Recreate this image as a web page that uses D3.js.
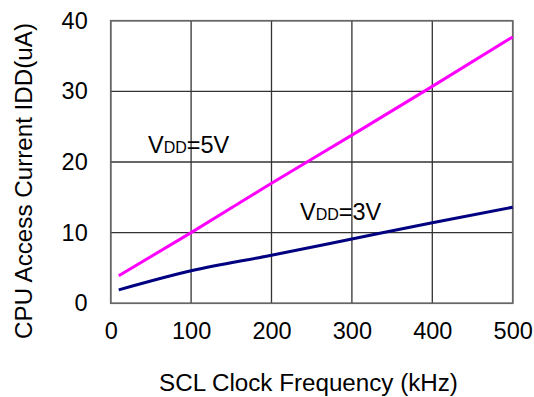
<!DOCTYPE html>
<html><head><meta charset="utf-8">
<script src="https://cdn.jsdelivr.net/npm/d3@7"></script>
<style>body{margin:0;background:#fff}svg{display:block}text{font-family:Arial,"Liberation Sans",sans-serif;fill:#000}</style>
</head><body><svg id="c" width="534" height="397"></svg>
<script>
const freq = [10, 100, 200, 300, 400, 500];
const vdd5 = [3.9, 10.0, 17.0, 23.8, 30.7, 37.7];
const vdd3 = [1.9, 4.6, 6.8, 9.1, 11.4, 13.6];
const xTicks = [0, 100, 200, 300, 400, 500];
const yTicks = [0, 10, 20, 30, 40];
const xTitle = "SCL Clock Frequency (kHz)";
const yTitle = "CPU Access Current IDD(uA)";

const svg = d3.select("#c");
const L = 110.7, R = 512.7, T = 20.7, B = 303.3;
const x = d3.scaleLinear().domain([0, 500]).range([L, R]);
const y = d3.scaleLinear().domain([0, 40]).range([B, T]);

// grid
const g = svg.append("g");
g.selectAll(".vx").data(xTicks).join("line")
  .attr("x1", d => x(d)).attr("x2", d => x(d)).attr("y1", T).attr("y2", B)
  .attr("stroke", "#333").attr("stroke-width", 1.3);
g.selectAll(".hy").data(yTicks).join("line")
  .attr("y1", d => y(d)).attr("y2", d => y(d)).attr("x1", L).attr("x2", R)
  .attr("stroke", "#333").attr("stroke-width", 1.3);
g.append("rect").attr("x", L).attr("y", T).attr("width", R - L).attr("height", B - T)
  .attr("fill", "none").attr("stroke", "#666").attr("stroke-width", 1.6);

// axes (labels only)
const xa = svg.append("g").attr("transform", `translate(0,${B})`)
  .call(d3.axisBottom(x).tickValues(xTicks).tickSize(0).tickPadding(19).tickFormat(d3.format("d")));
xa.select(".domain").remove();
xa.selectAll("text").style("font-size", "23.5px").attr("fill", "#000");
const ya = svg.append("g").attr("transform", `translate(${L},0)`)
  .call(d3.axisLeft(y).tickValues(yTicks).tickSize(0).tickPadding(23).tickFormat(d3.format("d")));
ya.select(".domain").remove();
ya.selectAll("text").style("font-size", "23.5px").attr("fill", "#000");

// lines
const pts5 = freq.map((f, i) => [f, vdd5[i]]);
const pts3 = freq.map((f, i) => [f, vdd3[i]]);
const line = d3.line().x(d => x(d[0])).y(d => y(d[1])).curve(d3.curveMonotoneX);
svg.append("path").attr("d", line(pts5)).attr("fill", "none").attr("stroke", "#FF00FF").attr("stroke-width", 3);
svg.append("path").attr("d", line(pts3)).attr("fill", "none").attr("stroke", "#000080").attr("stroke-width", 3);

// series labels
function vlabel(px, py, v) {
  const t = svg.append("text").attr("x", px).attr("y", py).style("font-size", "23.5px");
  t.append("tspan").text("V");
  t.append("tspan").text("DD").style("font-size", "16px");
  t.append("tspan").text("=" + v);
}
vlabel(148, 153, "5V");
vlabel(300, 220, "3V");

// titles
svg.append("text").attr("x", 308.5).attr("y", 391).attr("text-anchor", "middle")
  .style("font-size", "24.2px").text(xTitle);
svg.append("text").attr("transform", "translate(32,181) rotate(-90)").attr("text-anchor", "middle")
  .style("font-size", "24.2px").text(yTitle);
</script></body></html>
